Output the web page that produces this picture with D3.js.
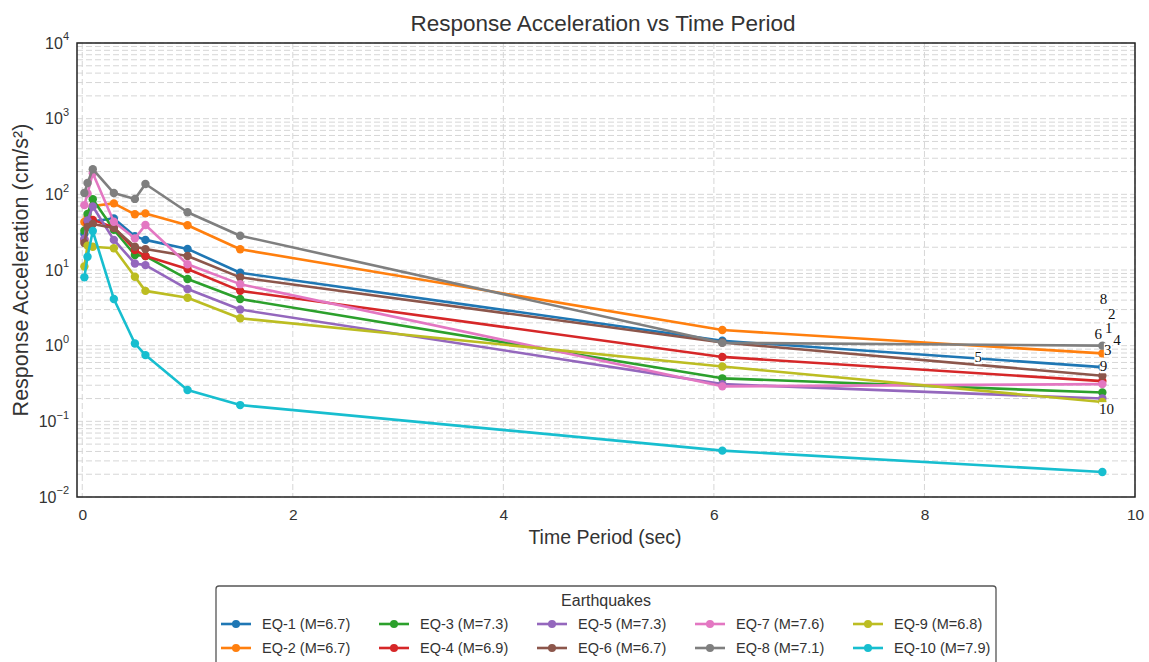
<!DOCTYPE html>
<html><head><meta charset="utf-8">
<script src="https://cdn.jsdelivr.net/npm/d3@7"></script>
<style>
html,body{margin:0;padding:0;background:#fff;}
svg{display:block;font-family:"Liberation Sans",Arial,sans-serif;}
</style></head>
<body><svg id="chart" width="1149" height="662"></svg>
<script>
// ---- data ----
const periods = [0.02, 0.05, 0.1, 0.3, 0.5, 0.6, 1.0, 1.5, 6.08, 9.69];
const seriesNames = ["EQ-1 (M=6.7)","EQ-2 (M=6.7)","EQ-3 (M=7.3)","EQ-4 (M=6.9)","EQ-5 (M=7.3)",
                     "EQ-6 (M=6.7)","EQ-7 (M=7.6)","EQ-8 (M=7.1)","EQ-9 (M=6.8)","EQ-10 (M=7.9)"];
const eq1  = [30, 42, 44, 48, 28, 25, 19, 9.2, 1.16, 0.52];
const eq2  = [43, 50, 70, 76, 54.5, 56, 39, 18.8, 1.61, 0.79];
const eq3  = [33, 55, 86, 34, 15.8, 15.3, 7.6, 4.14, 0.37, 0.24];
const eq4  = [25, 42, 46, 36.6, 18.4, 15.3, 10.3, 5.3, 0.71, 0.34];
const eq5  = [26, 45, 69, 25, 12.2, 11.6, 5.6, 3.0, 0.31, 0.2];
const eq6  = [22.7, 37, 40.5, 36, 20.3, 18.9, 15.3, 8.0, 1.1, 0.40];
const eq7  = [72, 103, 190, 43.5, 26.2, 39.3, 11.9, 6.5, 0.29, 0.31];
const eq8  = [104, 141, 215, 104, 87, 137, 58, 28.4, 1.09, 1.0];
const eq9  = [11.1, 21, 20.3, 19.4, 8.15, 5.3, 4.3, 2.3, 0.53, 0.18];
const eq10 = [8.0, 15.0, 32.7, 4.14, 1.07, 0.75, 0.26, 0.164, 0.041, 0.0214];
const seriesValues = [eq1, eq2, eq3, eq4, eq5, eq6, eq7, eq8, eq9, eq10];
const colors = ["#1f77b4","#ff7f0e","#2ca02c","#d62728","#9467bd","#8c564b","#e377c2","#7f7f7f","#bcbd22","#17becf"];
// end labels (text, period, value) as placed in the figure
const endLabelText  = ["1","2","3","4","5","6","8","9","10"];
const endLabelX     = [9.75, 9.78, 9.74, 9.83, 8.51, 9.65, 9.70, 9.70, 9.73];
const endLabelY     = [1.71, 2.62, 0.877, 1.19, 0.708, 1.43, 4.14, 0.538, 0.146];
const xTicks = [0, 2, 4, 6, 8, 10];
const yTickExps = [-2, -1, 0, 1, 2, 3, 4];

// ---- layout ----
const svg = d3.select("#chart");
const L = 77, R = 1135, T = 43, B = 497;
const x = d3.scaleLinear().domain([-0.05, 10]).range([L, R]);
const y = d3.scaleLog().domain([0.01, 10000]).range([B, T]);

// grid
const g = svg.append("g");
const minorVals = [];
for (let e = -2; e < 4; e++) for (let k = 1; k <= 9; k++) minorVals.push(k * Math.pow(10, e));
minorVals.push(10000);
g.selectAll("line.yg").data(minorVals).enter().append("line")
  .attr("x1", L).attr("x2", R).attr("y1", d => y(d)).attr("y2", d => y(d))
  .attr("stroke", "#d6d6d6").attr("stroke-width", 1).attr("stroke-dasharray", "6,3");
g.selectAll("line.xg").data(xTicks).enter().append("line")
  .attr("y1", T).attr("y2", B).attr("x1", d => x(d)).attr("x2", d => x(d))
  .attr("stroke", "#d6d6d6").attr("stroke-width", 1).attr("stroke-dasharray", "6,3");

// x axis ticks
const xa = svg.append("g").attr("transform", `translate(0,${B})`)
  .call(d3.axisBottom(x).tickValues(xTicks).tickSize(0).tickPadding(12).tickFormat(d3.format("d")));
xa.select(".domain").remove();
xa.selectAll("text").attr("font-size", 15.5).attr("fill", "#333").attr("font-family", "Liberation Sans, Arial, sans-serif");

// y axis ticks with superscript
const ya = svg.append("g").attr("transform", `translate(${L},0)`)
  .call(d3.axisLeft(y).tickValues(yTickExps.map(e => Math.pow(10, e))).tickSize(0).tickPadding(8).tickFormat(""));
ya.select(".domain").remove();
ya.selectAll(".tick").each(function(d) {
  const e = Math.round(Math.log10(d));
  const t = d3.select(this).select("text").attr("font-family", "Liberation Sans, Arial, sans-serif")
    .attr("fill", "#333").attr("font-size", 16).attr("dy", "0.32em").text(null);
  t.append("tspan").text("10");
  t.append("tspan").attr("font-size", 11).attr("dy", "-0.75em").text(e < 0 ? "\u2212" + (-e) : String(e));
});

// lines
const line = d3.line().x((d, i) => x(periods[i])).y(d => y(d));
const plot = svg.append("g");
seriesValues.forEach((vals, s) => {
  const sg = plot.append("g");
  sg.append("path").datum(vals).attr("d", line).attr("fill", "none")
    .attr("stroke", colors[s]).attr("stroke-width", 2.6).attr("stroke-linejoin", "round");
  sg.selectAll("circle").data(vals).enter().append("circle")
    .attr("cx", (d, i) => x(periods[i])).attr("cy", d => y(d)).attr("r", 4.2).attr("fill", colors[s]);
});

// end labels
const lg = svg.append("g");
endLabelText.forEach((t, i) => {
  const gg = lg.append("g");
  const tx = gg.append("text").attr("x", x(endLabelX[i])).attr("y", y(endLabelY[i]))
    .attr("text-anchor", "middle").attr("dy", "0.35em")
    .attr("font-family", "Liberation Serif, Times New Roman, serif").attr("font-size", 15)
    .attr("fill", "#111").text(t);
  const bb = tx.node().getBBox();
  gg.insert("rect", "text").attr("x", bb.x).attr("y", bb.y + 1).attr("width", bb.width).attr("height", bb.height - 2)
    .attr("fill", "#fff");
});

// frame
svg.append("rect").attr("x", L).attr("y", T).attr("width", R - L).attr("height", B - T)
  .attr("fill", "none").attr("stroke", "#222").attr("stroke-width", 1.5);

// title and axis labels
svg.append("text").attr("x", (L + R) / 2 - 3).attr("y", 31).attr("text-anchor", "middle")
  .attr("font-size", 22.5).attr("fill", "#333").text("Response Acceleration vs Time Period");
svg.append("text").attr("x", (L + R) / 2 - 1).attr("y", 544).attr("text-anchor", "middle")
  .attr("font-size", 19.5).attr("fill", "#333").text("Time Period (sec)");
svg.append("text").attr("transform", `translate(28,${(T + B) / 2}) rotate(-90)`).attr("text-anchor", "middle")
  .attr("font-size", 21.5).attr("fill", "#333").text("Response Acceleration (cm/s\u00b2)");

// legend
const legX = 216, legY = 586, legW = 780, legH = 80;
const leg = svg.append("g");
leg.append("rect").attr("x", legX).attr("y", legY).attr("width", legW).attr("height", legH)
  .attr("rx", 3).attr("fill", "#fff").attr("stroke", "#555").attr("stroke-width", 1.3);
leg.append("text").attr("x", legX + legW / 2).attr("y", legY + 20).attr("text-anchor", "middle")
  .attr("font-size", 16).attr("fill", "#333").text("Earthquakes");
seriesNames.forEach((name, i) => {
  const col = Math.floor(i / 2), row = i % 2;
  const ex = legX + 5 + col * 158, ey = legY + 38 + row * 24;
  leg.append("line").attr("x1", ex).attr("x2", ex + 30).attr("y1", ey).attr("y2", ey)
    .attr("stroke", colors[i]).attr("stroke-width", 2.6);
  leg.append("circle").attr("cx", ex + 15).attr("cy", ey).attr("r", 4).attr("fill", colors[i]);
  leg.append("text").attr("x", ex + 41).attr("y", ey).attr("dy", "0.35em")
    .attr("font-size", 14.5).attr("fill", "#333").text(name);
});
</script></body></html>
